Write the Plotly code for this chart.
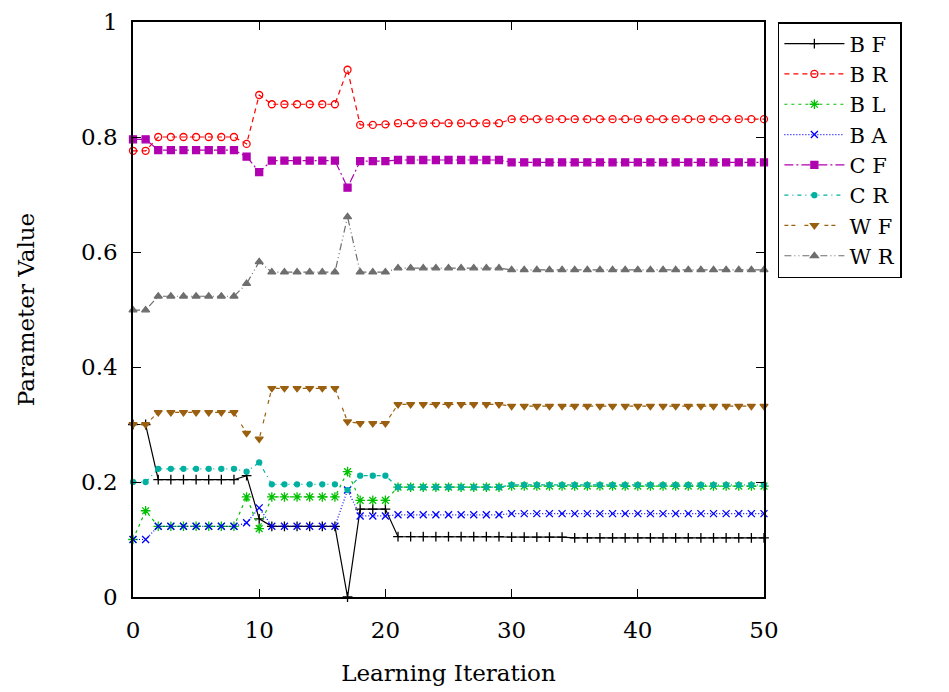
import plotly.graph_objects as go

iterations = list(range(51))

series_names = ["B F", "B R", "B L", "B A", "C F", "C R", "W F", "W R"]

b_f = [0.300, 0.300, 0.204, 0.204, 0.204, 0.204, 0.204, 0.204, 0.204, 0.211,
       0.136, 0.123, 0.123, 0.123, 0.123, 0.123, 0.123, 0.000, 0.153, 0.153,
       0.153, 0.105, 0.105, 0.105, 0.105, 0.105, 0.105, 0.105, 0.105, 0.105,
       0.104, 0.104, 0.104, 0.104, 0.104, 0.103, 0.103, 0.103, 0.103, 0.103,
       0.103, 0.103, 0.103, 0.103, 0.103, 0.103, 0.103, 0.103, 0.103, 0.103,
       0.103]
b_r = [0.776, 0.776, 0.800, 0.800, 0.800, 0.800, 0.800, 0.800, 0.800, 0.788,
       0.873, 0.857, 0.857, 0.857, 0.857, 0.857, 0.857, 0.917, 0.821, 0.821,
       0.822, 0.824, 0.824, 0.824, 0.824, 0.824, 0.824, 0.824, 0.824, 0.824,
       0.831, 0.831, 0.831, 0.831, 0.831, 0.831, 0.831, 0.831, 0.831, 0.831,
       0.831, 0.831, 0.831, 0.831, 0.831, 0.831, 0.831, 0.831, 0.831, 0.831,
       0.831]
b_l = [0.100, 0.150, 0.123, 0.123, 0.123, 0.123, 0.123, 0.123, 0.123, 0.174,
       0.119, 0.174, 0.174, 0.174, 0.174, 0.174, 0.174, 0.218, 0.168, 0.168,
       0.168, 0.191, 0.191, 0.191, 0.191, 0.191, 0.191, 0.191, 0.191, 0.191,
       0.193, 0.193, 0.193, 0.193, 0.193, 0.193, 0.193, 0.193, 0.193, 0.193,
       0.193, 0.193, 0.193, 0.193, 0.193, 0.193, 0.193, 0.193, 0.193, 0.193,
       0.193]
b_a = [0.100, 0.100, 0.123, 0.123, 0.123, 0.123, 0.123, 0.123, 0.123, 0.129,
       0.155, 0.123, 0.123, 0.123, 0.123, 0.123, 0.123, 0.186, 0.141, 0.141,
       0.141, 0.143, 0.143, 0.143, 0.143, 0.143, 0.143, 0.143, 0.143, 0.143,
       0.145, 0.145, 0.145, 0.145, 0.145, 0.145, 0.145, 0.145, 0.145, 0.145,
       0.145, 0.145, 0.145, 0.145, 0.145, 0.145, 0.145, 0.145, 0.145, 0.145,
       0.145]
c_f = [0.796, 0.796, 0.777, 0.777, 0.777, 0.777, 0.777, 0.777, 0.777, 0.766,
       0.739, 0.759, 0.759, 0.759, 0.759, 0.759, 0.759, 0.712, 0.758, 0.758,
       0.758, 0.760, 0.760, 0.760, 0.760, 0.760, 0.760, 0.760, 0.760, 0.760,
       0.756, 0.756, 0.756, 0.756, 0.756, 0.756, 0.756, 0.756, 0.756, 0.756,
       0.756, 0.756, 0.756, 0.756, 0.756, 0.756, 0.756, 0.756, 0.756, 0.756,
       0.756]
c_r = [0.200, 0.200, 0.223, 0.223, 0.223, 0.223, 0.223, 0.223, 0.223, 0.218,
       0.234, 0.196, 0.196, 0.196, 0.196, 0.196, 0.196, 0.186, 0.211, 0.211,
       0.211, 0.191, 0.191, 0.191, 0.191, 0.191, 0.191, 0.191, 0.191, 0.191,
       0.195, 0.195, 0.195, 0.195, 0.195, 0.195, 0.195, 0.195, 0.195, 0.195,
       0.195, 0.195, 0.195, 0.195, 0.195, 0.195, 0.195, 0.195, 0.195, 0.195,
       0.195]
w_f = [0.300, 0.300, 0.321, 0.321, 0.321, 0.321, 0.321, 0.321, 0.321, 0.285,
       0.275, 0.363, 0.363, 0.363, 0.363, 0.363, 0.363, 0.305, 0.302, 0.302,
       0.302, 0.335, 0.335, 0.335, 0.335, 0.335, 0.335, 0.335, 0.335, 0.335,
       0.332, 0.332, 0.332, 0.332, 0.332, 0.332, 0.332, 0.332, 0.332, 0.332,
       0.332, 0.332, 0.332, 0.332, 0.332, 0.332, 0.332, 0.332, 0.332, 0.332,
       0.332]
w_r = [0.499, 0.499, 0.523, 0.523, 0.523, 0.523, 0.523, 0.523, 0.523, 0.545,
       0.583, 0.565, 0.565, 0.565, 0.565, 0.565, 0.565, 0.661, 0.565, 0.565,
       0.565, 0.572, 0.572, 0.572, 0.572, 0.572, 0.572, 0.572, 0.572, 0.572,
       0.569, 0.569, 0.569, 0.569, 0.569, 0.569, 0.569, 0.569, 0.569, 0.569,
       0.569, 0.569, 0.569, 0.569, 0.569, 0.569, 0.569, 0.569, 0.569, 0.569,
       0.569]

x_ticks = [0, 10, 20, 30, 40, 50]
y_ticks = [0, 0.2, 0.4, 0.6, 0.8, 1]
y_tick_labels = ["0", "0.2", "0.4", "0.6", "0.8", "1"]

all_series = [b_f, b_r, b_l, b_a, c_f, c_r, w_f, w_r]
colors = ["#000000", "#ff0000", "#00c000", "#0000ff", "#b000b0", "#00b0a0", "#9a6010", "#6e6e6e"]
dashes = ["solid", "5px,4px", "3px,4px", "1px,2px", "9px,3px,2px,3px",
          "4px,4px,1px,4px", "4px,3px,4px,9px", "7px,3px,1px,3px,1px,3px"]
symbols = ["cross-thin-open", "circle-open", "asterisk-open", "x-thin-open",
           "square", "circle", "triangle-down", "triangle-up"]
sizes = [7, 7, 8, 7, 7, 5, 7, 7]

FONT = "DejaVu Serif"

fig = go.Figure()
for name, vals, col, dsh, sym, sz in zip(series_names, all_series, colors, dashes, symbols, sizes):
    fig.add_trace(go.Scatter(
        x=iterations, y=vals, name=name, mode="lines+markers",
        line=dict(color=col, width=1.2, dash=dsh),
        marker=dict(symbol=sym, size=sz, color=col, line=dict(color=col, width=1.3)),
        cliponaxis=False,
    ))

axis_common = dict(
    showgrid=False, zeroline=False, showline=True, linecolor="#000000", linewidth=1.5,
    mirror="ticks", ticks="inside", ticklen=8, tickcolor="#000000", tickwidth=1,
    tickfont=dict(family=FONT, size=23, color="#000000"), automargin=False,
    ticklabeloverflow="allow",
)

fig.update_layout(
    width=949, height=692,
    margin=dict(l=125, r=193, t=14, b=103),
    paper_bgcolor="#ffffff", plot_bgcolor="#ffffff",
    font=dict(family=FONT, size=23, color="#000000"),
    xaxis=dict(range=[0, 50], tickvals=x_ticks, ticktext=[str(v) for v in x_ticks],
               ticklabelstandoff=12,
               title=dict(text="Learning Iteration", font=dict(family=FONT, size=23), standoff=23),
               **axis_common),
    yaxis=dict(range=[0, 1], tickvals=y_ticks, ticktext=y_tick_labels,
               ticklabelstandoff=9,
               title=dict(text="Parameter Value", font=dict(family=FONT, size=23), standoff=40),
               **axis_common),
    legend=dict(x=1.022, y=1.0, xanchor="left", yanchor="top",
                bordercolor="#000000", borderwidth=1.5, bgcolor="#ffffff",
                font=dict(family=FONT, size=21, color="#000000"),
                itemwidth=60, tracegroupgap=0),
    showlegend=True,
)

fig.write_html("out.html")
